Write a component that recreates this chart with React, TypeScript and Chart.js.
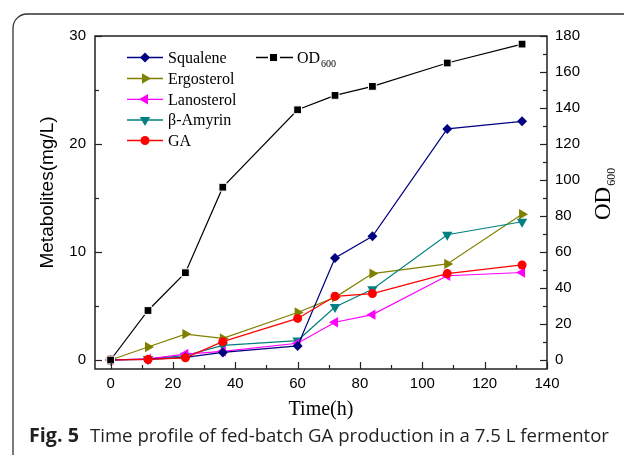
import React, { useEffect, useRef } from 'react';
import { Chart, registerables } from 'chart.js';

Chart.register(...registerables);

// ---- data ----
const timeH = [0, 12, 24, 36, 60, 72, 84, 108, 132];
const squalene = [0, 0.05, 0.25, 0.7, 1.3, 9.45, 11.45, 21.4, 22.1];
const ergosterol = [0, 1.2, 2.4, 2.0, 4.4, 5.8, 8.0, 8.9, 13.5];
const lanosterol = [0, 0.1, 0.55, 0.8, 1.55, 3.5, 4.2, 7.8, 8.1];
const amyrin = [0, 0.1, 0.4, 1.35, 1.8, 4.9, 6.55, 11.6, 12.8];
const ga = [0, 0.05, 0.2, 1.7, 3.85, 5.9, 6.15, 8.0, 8.8];
const od600 = [0, 27.5, 48.5, 96, 139, 147, 152, 165, 175.5];

const xTickValues = [0, 10, 20, 30, 40, 50, 60, 70, 80, 90, 100, 110, 120, 130, 140];
const xTickLabels = ['0', '', '20', '', '40', '', '60', '', '80', '', '100', '', '120', '', '140'];
const yTickValues = [0, 5, 10, 15, 20, 25, 30];
const yTickLabels = ['0', '', '10', '', '20', '', '30'];
const y1TickValues = [0, 10, 20, 30, 40, 50, 60, 70, 80, 90, 100, 110, 120, 130, 140, 150, 160, 170, 180];
const y1TickLabels = ['0', '', '20', '', '40', '', '60', '', '80', '', '100', '', '120', '', '140', '', '160', '', '180'];

const captionBold = 'Fig. 5';
const captionText = 'Time profile of fed-batch GA production in a 7.5 L fermentor';

const SANS = '"Liberation Sans", Arial, Helvetica, sans-serif';
const SERIF = '"Liberation Serif", "Times New Roman", serif';
const CAP = '"Open Sans", "Noto Sans", sans-serif';

type Marker = { style: string; rot: number; r: number };

function drawMarker(ctx: CanvasRenderingContext2D, m: Marker, color: string, x: number, y: number) {
  ctx.save();
  ctx.fillStyle = color;
  ctx.beginPath();
  const r = m.r;
  if (m.style === 'rect') {
    const h = r * Math.SQRT1_2;
    ctx.rect(x - h, y - h, 2 * h, 2 * h);
  } else if (m.style === 'rectRot') {
    ctx.moveTo(x, y - r);
    ctx.lineTo(x + r, y);
    ctx.lineTo(x, y + r);
    ctx.lineTo(x - r, y);
    ctx.closePath();
  } else if (m.style === 'circle') {
    ctx.arc(x, y, r, 0, Math.PI * 2);
  } else {
    let a = (m.rot * Math.PI) / 180;
    for (let k = 0; k < 3; k++) {
      const px = x + Math.sin(a) * r;
      const py = y - Math.cos(a) * r;
      if (k === 0) ctx.moveTo(px, py);
      else ctx.lineTo(px, py);
      a += (2 * Math.PI) / 3;
    }
    ctx.closePath();
  }
  ctx.fill();
  ctx.restore();
}

const series = [
  { label: 'OD', data: od600, color: '#000000', marker: { style: 'rect', rot: 0, r: 5 }, axis: 'y1' },
  { label: 'GA', data: ga, color: '#FF0000', marker: { style: 'circle', rot: 0, r: 4.5 }, axis: 'y' },
  { label: 'Squalene', data: squalene, color: '#000080', marker: { style: 'rectRot', rot: 0, r: 5 }, axis: 'y' },
  { label: 'Lanosterol', data: lanosterol, color: '#FF00FF', marker: { style: 'triangle', rot: 270, r: 6 }, axis: 'y' },
  { label: 'β-Amyrin', data: amyrin, color: '#008080', marker: { style: 'triangle', rot: 180, r: 6 }, axis: 'y' },
  { label: 'Ergosterol', data: ergosterol, color: '#808000', marker: { style: 'triangle', rot: 90, r: 6 }, axis: 'y' },
];

const legendOrder = ['Squalene', 'Ergosterol', 'Lanosterol', 'β-Amyrin', 'GA'];

function fitFont(ctx: CanvasRenderingContext2D, text: string, weight: string, target: number, base: number) {
  ctx.font = `${weight} ${base}px ${CAP}`;
  const w = ctx.measureText(text).width;
  const size = w > 0 ? (base * target) / w : base;
  return `${weight} ${size.toFixed(2)}px ${CAP}`;
}

const decorPlugin = {
  id: 'decor',
  afterDraw(chart: any) {
    const ctx: CanvasRenderingContext2D = chart.ctx;
    const a = chart.chartArea;
    const sx = chart.scales.x;
    const sy = chart.scales.y;
    const sy1 = chart.scales.y1;
    ctx.save();
    // plot frame
    ctx.strokeStyle = '#222';
    ctx.lineWidth = 1.5;
    ctx.strokeRect(a.left, a.top, a.right - a.left, a.bottom - a.top);
    ctx.lineWidth = 1.2;
    // inward ticks
    xTickValues.forEach((v, i) => {
      const px = Math.round(sx.getPixelForValue(v)) + 0.5;
      const len = xTickLabels[i] ? 7 : 4;
      ctx.beginPath();
      ctx.moveTo(px, a.bottom);
      ctx.lineTo(px, a.bottom - len);
      ctx.stroke();
    });
    yTickValues.forEach((v, i) => {
      const py = Math.round(sy.getPixelForValue(v)) + 0.5;
      const len = yTickLabels[i] ? 7 : 4;
      ctx.beginPath();
      ctx.moveTo(a.left, py);
      ctx.lineTo(a.left + len, py);
      ctx.stroke();
    });
    y1TickValues.forEach((v, i) => {
      const py = Math.round(sy1.getPixelForValue(v)) + 0.5;
      const len = y1TickLabels[i] ? 7 : 4;
      ctx.beginPath();
      ctx.moveTo(a.right, py);
      ctx.lineTo(a.right - len, py);
      ctx.stroke();
    });

    // axis titles
    ctx.fillStyle = '#000';
    ctx.font = `19px ${SANS}`;
    ctx.textAlign = 'center';
    ctx.textBaseline = 'alphabetic';
    ctx.save();
    ctx.translate(53, (a.top + a.bottom) / 2 - 10);
    ctx.rotate(-Math.PI / 2);
    ctx.fillText('Metabolites(mg/L)', 0, 0);
    ctx.restore();

    ctx.font = `20px ${SERIF}`;
    ctx.fillText('Time(h)', (a.left + a.right) / 2, 415);

    // right title OD600
    ctx.save();
    ctx.translate(610, 220);
    ctx.rotate(-Math.PI / 2);
    ctx.textAlign = 'left';
    ctx.font = `23px ${SERIF}`;
    ctx.fillText('OD', 0, 0);
    const odw = ctx.measureText('OD').width;
    ctx.font = `12px ${SERIF}`;
    ctx.fillText('600', odw + 1, 5);
    ctx.restore();

    // legend
    ctx.lineWidth = 1.3;
    ctx.textAlign = 'left';
    ctx.textBaseline = 'middle';
    ctx.font = `16px ${SERIF}`;
    const rowY = [57.5, 78.5, 99.3, 120, 140.5];
    legendOrder.forEach((name, i) => {
      const s = series.find((d) => d.label === name)!;
      const y = rowY[i];
      ctx.strokeStyle = s.color;
      ctx.beginPath();
      ctx.moveTo(127, y);
      ctx.lineTo(163, y);
      ctx.stroke();
      drawMarker(ctx, s.marker as Marker, s.color, 145, y);
      ctx.fillStyle = '#000';
      ctx.fillText(name, 168, y + 1);
    });
    const od = series[0];
    ctx.strokeStyle = '#000';
    ctx.beginPath();
    ctx.moveTo(256, rowY[0]);
    ctx.lineTo(268, rowY[0]);
    ctx.moveTo(280, rowY[0]);
    ctx.lineTo(293, rowY[0]);
    ctx.stroke();
    drawMarker(ctx, od.marker as Marker, '#000', 273.5, rowY[0]);
    ctx.fillStyle = '#000';
    ctx.fillText('OD', 297, rowY[0] + 1);
    const w2 = ctx.measureText('OD').width;
    ctx.font = `10px ${SERIF}`;
    ctx.fillText('600', 297 + w2 + 1, rowY[0] + 7);

    // outer rounded frame
    ctx.strokeStyle = '#333';
    ctx.lineWidth = 1.3;
    ctx.beginPath();
    const fx = 13, fy = 14, rr = 14;
    ctx.moveTo(fx, 470);
    ctx.lineTo(fx, fy + rr);
    ctx.arcTo(fx, fy, fx + rr, fy, rr);
    ctx.lineTo(640, fy);
    ctx.stroke();

    // caption
    ctx.textBaseline = 'alphabetic';
    ctx.fillStyle = '#231f20';
    ctx.font = fitFont(ctx, captionBold, 'bold', 50, 18);
    ctx.fillText(captionBold, 29, 442);
    ctx.font = fitFont(ctx, captionText, 'normal', 519, 18);
    ctx.fillText(captionText, 90, 442);
    ctx.restore();
  },
};

export default function App() {
  const ref = useRef<HTMLCanvasElement | null>(null);
  useEffect(() => {
    if (!ref.current) return;
    const chart = new Chart(ref.current, {
      type: 'line',
      data: {
        datasets: series.map((s) => ({
          label: s.label,
          data: timeH.map((t, i) => ({ x: t, y: s.data[i] })),
          yAxisID: s.axis,
          borderColor: s.color,
          backgroundColor: s.color,
          borderWidth: 1.2,
          pointStyle: s.marker.style as any,
          pointRotation: s.marker.rot,
          pointRadius: s.label === 'OD' ? 5.5 : s.marker.r,
          pointBackgroundColor: s.color,
          pointBorderColor: s.label === 'OD' ? '#ffffff' : s.color,
          pointBorderWidth: s.label === 'OD' ? 1 : 0,
          tension: 0,
          fill: false,
        })),
      },
      options: {
        responsive: false,
        animation: false,
        devicePixelRatio: 1,
        layout: { padding: { top: 36, left: 0, right: 0, bottom: 0 } },
        plugins: { legend: { display: false }, tooltip: { enabled: false }, title: { display: false } },
        scales: {
          x: {
            type: 'linear',
            position: 'bottom',
            min: -5,
            max: 140,
            grid: { display: false, drawTicks: false },
            border: { display: false },
            afterBuildTicks: (sc: any) => {
              sc.ticks = xTickValues.map((v) => ({ value: v }));
            },
            afterFit: (sc: any) => {
              sc.height = 86;
            },
            ticks: {
              padding: 6,
              autoSkip: false,
              maxRotation: 0,
              color: '#000',
              font: { family: SANS, size: 15 },
              callback: (_v: any, i: number) => xTickLabels[i],
            },
          },
          y: {
            type: 'linear',
            position: 'left',
            min: -0.8333,
            max: 30,
            grid: { display: false, drawTicks: false },
            border: { display: false },
            afterBuildTicks: (sc: any) => {
              sc.ticks = yTickValues.map((v) => ({ value: v }));
            },
            afterFit: (sc: any) => {
              sc.width = 95;
            },
            ticks: {
              padding: 9,
              autoSkip: false,
              color: '#000',
              font: { family: SANS, size: 15 },
              callback: (_v: any, i: number) => yTickLabels[i],
            },
          },
          y1: {
            type: 'linear',
            position: 'right',
            min: -5,
            max: 180,
            grid: { display: false, drawTicks: false },
            border: { display: false },
            afterBuildTicks: (sc: any) => {
              sc.ticks = y1TickValues.map((v) => ({ value: v }));
            },
            afterFit: (sc: any) => {
              sc.width = 77;
            },
            ticks: {
              padding: 8,
              autoSkip: false,
              color: '#000',
              font: { family: SANS, size: 15 },
              callback: (_v: any, i: number) => y1TickLabels[i],
            },
          },
        },
      },
      plugins: [decorPlugin],
    });
    return () => chart.destroy();
  }, []);

  return (
    <div style={{ position: 'fixed', left: 0, top: 0, width: 624, height: 455, background: '#fff' }}>
      <canvas ref={ref} width={624} height={455} style={{ display: 'block', width: 624, height: 455 }} />
    </div>
  );
}
